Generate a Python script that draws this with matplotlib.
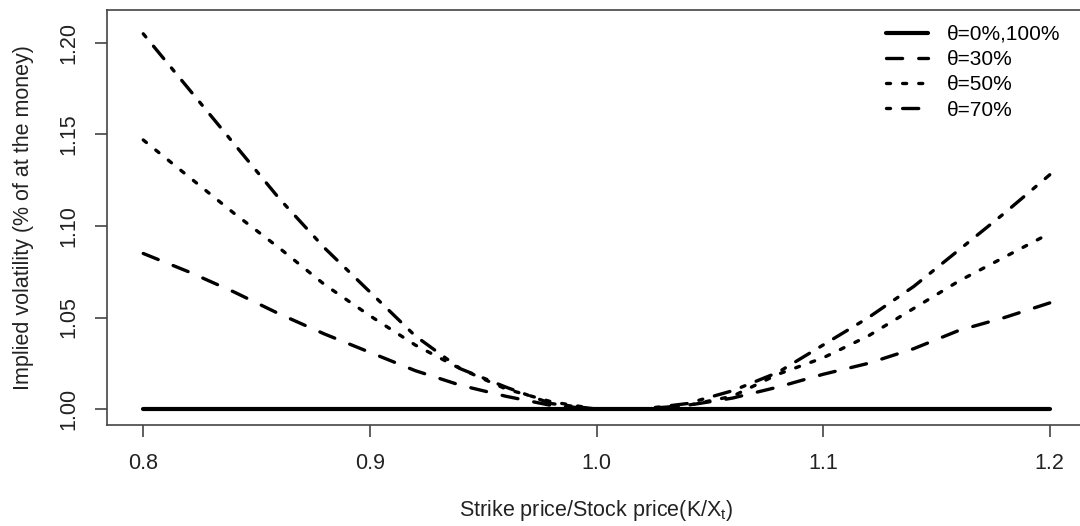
import matplotlib
matplotlib.use('Agg')
import matplotlib.pyplot as plt

plt.rcParams['font.family'] = ['Liberation Sans', 'DejaVu Sans']
plt.rcParams['font.size'] = 15.5
plt.rcParams['lines.scale_dashes'] = False

# strike / stock price grid
moneyness = [0.80, 0.82, 0.84, 0.86, 0.88, 0.90, 0.92, 0.94, 0.96, 0.98, 1.00,
             1.02, 1.04, 1.06, 1.08, 1.10, 1.12, 1.14, 1.16, 1.18, 1.20]

# implied vol relative to at-the-money
iv_0_100 = [1.000] * 21
iv_30 = [1.085, 1.075, 1.064, 1.052, 1.041, 1.031, 1.021, 1.013, 1.007, 1.002, 1.000,
         1.000, 1.002, 1.006, 1.012, 1.019, 1.025, 1.033, 1.043, 1.050, 1.058]
iv_50 = [1.147, 1.127, 1.107, 1.088, 1.068, 1.051, 1.035, 1.022, 1.011, 1.004, 1.000,
         1.000, 1.002, 1.007, 1.019, 1.028, 1.040, 1.055, 1.070, 1.083, 1.096]
iv_70 = [1.205, 1.175, 1.145, 1.115, 1.088, 1.064, 1.040, 1.022, 1.012, 1.003, 1.000,
         1.000, 1.003, 1.010, 1.020, 1.035, 1.050, 1.067, 1.087, 1.107, 1.128]

labels = ['\u03b8=0%,100%', '\u03b8=30%', '\u03b8=50%', '\u03b8=70%']

u = 2.9  # R lty unit in points
fig = plt.figure(figsize=(10.8, 5.26), dpi=100)
ax = fig.add_axes([107/1080, 1 - 425/526, 979/1080, 415/526])

lw = 2.4
ax.plot(moneyness, iv_0_100, color='black', lw=lw + 0.6, solid_capstyle='round', label=labels[0])
ax.plot(moneyness, iv_30, color='black', lw=lw, dashes=(4*u, 4*u), dash_capstyle='round', label=labels[1])
ax.plot(moneyness, iv_50, color='black', lw=lw, dashes=(1*u, 3*u), dash_capstyle='round', label=labels[2])
ax.plot(moneyness, iv_70, color='black', lw=lw, dashes=(1*u, 3*u, 4*u, 3*u), dash_capstyle='round', label=labels[3])

ax.set_xlim(0.784, 1.216)
ax.set_ylim(0.9913, 1.218)
ax.set_xticks([0.8, 0.9, 1.0, 1.1, 1.2])
ax.set_xticklabels(['0.8', '0.9', '1.0', '1.1', '1.2'])
ax.set_yticks([1.00, 1.05, 1.10, 1.15, 1.20])
ax.set_yticklabels(['1.00', '1.05', '1.10', '1.15', '1.20'], rotation=90, va='center')

for s in ax.spines.values():
    s.set_color('#444444')
    s.set_linewidth(1.2)
ax.tick_params(length=8.5, width=1.2, color='#444444', pad=11.5, labelcolor='#222222')

ax.set_xlabel('Strike price/Stock price(K/X$_\\mathregular{t}$)', color='#222222')
ax.xaxis.set_label_coords(0.5, -0.175)
ax.set_ylabel('Implied volatility (% of at the money)', color='#222222')
ax.yaxis.set_label_coords(-0.075, 0.5)

ax.legend(loc='upper left', bbox_to_anchor=(886/1080, 1 - 25/526), bbox_transform=fig.transFigure,
          frameon=False, borderpad=0, borderaxespad=0, handlelength=2.0, handletextpad=0.9,
          labelspacing=0.3, fontsize=15)

fig.savefig('out.png', dpi=100)
